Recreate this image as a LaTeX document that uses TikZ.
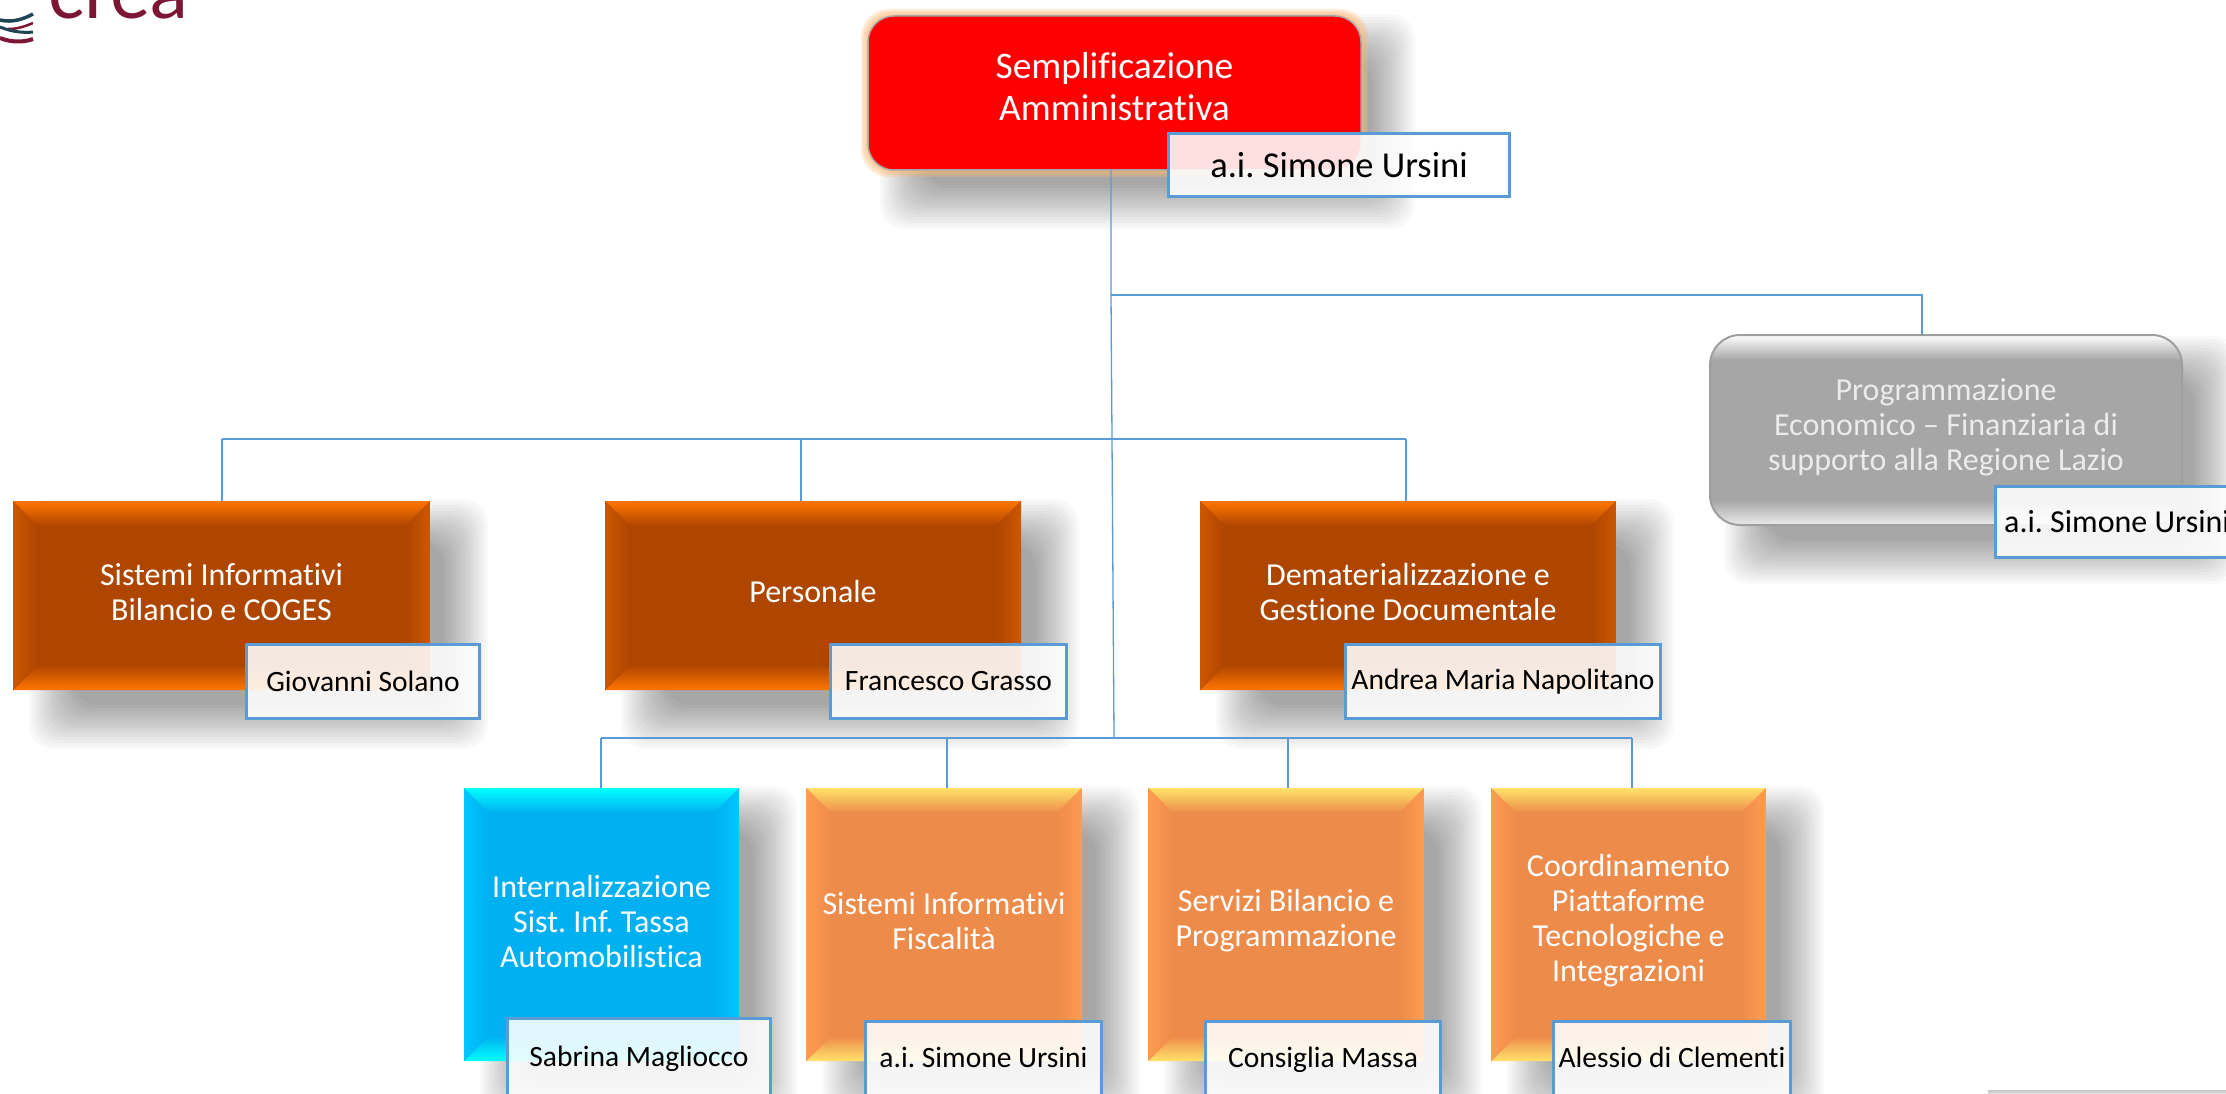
\documentclass[tikz,border=0pt]{standalone}
\usepackage{fontspec}
\setmainfont[Ligatures=NoCommon]{Carlito}
\newfontfamily\logofont{Lato}
\frenchspacing
\definecolor{lineblue}{HTML}{5B9BD5}
\definecolor{creared}{HTML}{7D1535}
\definecolor{createal}{HTML}{1F4456}
\definecolor{orcore}{HTML}{AE4600}\definecolor{ortop}{HTML}{FF7600}\definecolor{orside}{HTML}{CC5700}
\definecolor{pacore}{HTML}{ED8B4A}\definecolor{patop}{HTML}{FFE26A}\definecolor{paside}{HTML}{FF9C52}
\definecolor{blcore}{HTML}{00B0F0}\definecolor{bltop}{HTML}{00FFFF}\definecolor{blside}{HTML}{00C6FF}
\tikzset{
  conn/.style={draw=lineblue,line width=1.3pt},
  boxshape/.style={inner sep=0pt,outer sep=0pt},
  boxtext/.style={inner sep=0pt,align=center,text=white,font=\fontsize{32}{35}\selectfont},
  whobox/.style={draw=lineblue,line width=3pt,fill=white,fill opacity=.88,text opacity=1,text=black,inner sep=0pt,font=\fontsize{29.5}{35}\selectfont},
}
% soft shadow: stacked translucent rectangles
\newcommand{\softshadow}[4]{%
  \foreach \k in {0,...,15}{%
    \pgfmathsetmacro{\o}{22-\k*44/15}%
    \fill[black,opacity=.023,rounded corners=24pt] ({#1-\o},{#2-\o}) rectangle ({#3+\o},{#4+\o});
  }}
% bevelled box: name,x1,y1,x2,y2,colour prefix,text
\newcommand{\bevelbox}[7]{%
  \softshadow{#2+38}{#3+20}{#4+36}{#5+37}%
  \node[boxshape,fill=#6core,minimum width={(#4-#2)*1pt},minimum height={(#5-#3)*1pt}] (#1) at ({(#2+#4)/2},{(#3+#5)/2}) {};
  \begin{scope}\clip (#2,#3)--(#4,#3)--(#4-25,#3+25)--(#2+25,#3+25)--cycle;
    \shade[top color=#6top,bottom color=#6core] (#2,#3) rectangle (#4,#3+25);\end{scope}
  \begin{scope}\clip (#2,#5)--(#4,#5)--(#4-25,#5-25)--(#2+25,#5-25)--cycle;
    \shade[bottom color=#6top,top color=#6core] (#2,#5-25) rectangle (#4,#5);\end{scope}
  \begin{scope}\clip (#2,#3)--(#2+25,#3+25)--(#2+25,#5-25)--(#2,#5)--cycle;
    \shade[left color=#6side,right color=#6core] (#2,#3) rectangle (#2+25,#5);\end{scope}
  \begin{scope}\clip (#4,#3)--(#4-25,#3+25)--(#4-25,#5-25)--(#4,#5)--cycle;
    \shade[right color=#6side,left color=#6core] (#4-25,#3) rectangle (#4,#5);\end{scope}
  \node[boxtext,yshift=3.5pt] (#1text) at (#1) {#7};
}
% name, x1,y1,x2,y2, text
\newcommand{\whobox}[6]{%
  \node[whobox,minimum width={(#4-#2-3)*1pt},minimum height={(#5-#3-3)*1pt}] (#1) at ({(#2+#4)/2},{(#3+#5)/2}) {#6};
}
\begin{document}
\begin{tikzpicture}[x=1pt,y=-1pt]
\useasboundingbox (0,0) rectangle (2226,1094);
\clip (0,0) rectangle (2226,1094);
\fill[white] (0,0) rectangle (2226,1094);

% logo
\node[anchor=base west,inner sep=0pt,text=creared,font=\logofont\fontsize{76}{76}\selectfont] (crea) at (48,19) {crea};
\draw[createal,line width=3.5pt] (0,20) .. controls (12,23) and (24,19) .. (33,14);
\draw[creared,line width=2.5pt] (8,29) .. controls (18,29) and (26,26) .. (33,23);
\draw[createal,line width=3pt] (0,27) .. controls (12,32) and (24,33) .. (33,32);
\draw[creared,line width=4pt] (0,38) .. controls (12,43) and (25,42) .. (33,39);

% top box
\softshadow{902}{36}{1393}{207}
\foreach \g in {7,5,3,1}{
  \fill[orange!55!white,opacity=.28,rounded corners=28pt] ({868-\g},{16-\g}) rectangle ({1361+\g},{170+\g});
}
\node[boxshape,draw=black!35,line width=1.5pt,fill=red,rounded corners=26pt,minimum width=493pt,minimum height=154pt] (top) at (1114.5,93) {};
\node[boxtext,yshift=6pt,font=\fontsize{37.5}{42}\selectfont] (toptext) at (top) {Semplificazione\\Amministrativa};
\whobox{topwho}{1167}{132}{1511}{198}{\fontsize{36.5}{40}\selectfont a.i. Simone Ursini}

% grey box
\softshadow{1746}{358}{2216}{562}
\node[boxshape,fill=black!35,rounded corners=30pt,minimum width=472pt,minimum height=190pt] (grey) at (1946,430) {};
\begin{scope}
  \clip[rounded corners=30pt] (1710,335) rectangle (2182,525);
  \shade[top color=white,bottom color=black!35] (1710,335) rectangle (2182,360);
  \shade[bottom color=black!8,top color=black!35] (1710,500) rectangle (2182,525);
\end{scope}
\draw[draw=black!38,line width=2pt,rounded corners=30pt] (grey.north west) rectangle (grey.south east);
\node[boxtext,yshift=2.5pt,text=white!92!black] (greytext) at (grey) {Programmazione\\Economico -- Finanziaria di\\supporto alla Regione Lazio};
\whobox{greywho}{1994}{485}{2240}{559}{\fontsize{32}{35}\selectfont a.i. Simone Ursini}

% middle row
\bevelbox{sis}{13}{501}{430}{690}{or}{Sistemi Informativi\\Bilancio e COGES}
\bevelbox{per}{605}{501}{1021}{690}{or}{Personale}
\bevelbox{dem}{1200}{501}{1616}{690}{or}{Dematerializzazione e\\Gestione Documentale}
\whobox{siswho}{245}{643}{481}{720}{Giovanni Solano}
\whobox{perwho}{829}{643}{1068}{720}{Francesco Grasso}
\whobox{demwho}{1344}{643}{1662}{720}{Andrea Maria Napolitano}

% bottom row
\bevelbox{int}{464}{788}{739}{1061}{bl}{Internalizzazione\\Sist. Inf. Tassa\\Automobilistica}
\bevelbox{fis}{806}{788}{1082}{1061}{pa}{Sistemi Informativi\\Fiscalità}
\bevelbox{ser}{1148}{788}{1424}{1061}{pa}{Servizi Bilancio e\\Programmazione}
\bevelbox{coo}{1491}{788}{1766}{1061}{pa}{Coordinamento\\Piattaforme\\Tecnologiche e\\Integrazioni}
\whobox{intwho}{506}{1017}{772}{1100}{\raisebox{5pt}{Sabrina Magliocco}}
\whobox{fiswho}{864}{1020}{1103}{1100}{\raisebox{5pt}{a.i. Simone Ursini}}
\whobox{serwho}{1204}{1020}{1442}{1100}{\raisebox{5pt}{Consiglia Massa}}
\whobox{coowho}{1552}{1020}{1792}{1100}{\raisebox{5pt}{Alessio di Clementi}}

% connectors
\coordinate (ja) at (1111,295);
\coordinate (jb) at (1112,439);
\coordinate (jc) at (1114,738);
\coordinate (xgrey) at (1922,295);
\coordinate (xsis) at (222,439);
\coordinate (xper) at (801,439);
\coordinate (xdem) at (1406,439);
\coordinate (xint) at (601,738);
\coordinate (xfis) at (947,738);
\coordinate (xser) at (1288,738);
\coordinate (xcoo) at (1632,738);
\draw[conn] (ja |- top.south) -- (ja) -- (jb) -- (jc);
\draw[conn] (ja) -- (xgrey) -- (xgrey |- grey.north);
\draw[conn] (xsis) -- (xdem);
\draw[conn] (xsis) -- (xsis |- sis.north);
\draw[conn] (xper) -- (xper |- per.north);
\draw[conn] (xdem) -- (xdem |- dem.north);
\draw[conn] (xint) -- (xcoo);
\draw[conn] (xint) -- (xint |- int.north);
\draw[conn] (xfis) -- (xfis |- fis.north);
\draw[conn] (xser) -- (xser |- ser.north);
\draw[conn] (xcoo) -- (xcoo |- coo.north);

% strip at the lower right edge
\shade[top color=black!22,bottom color=black!12] (1988,1090) rectangle (2226,1094);
\end{tikzpicture}
\end{document}
